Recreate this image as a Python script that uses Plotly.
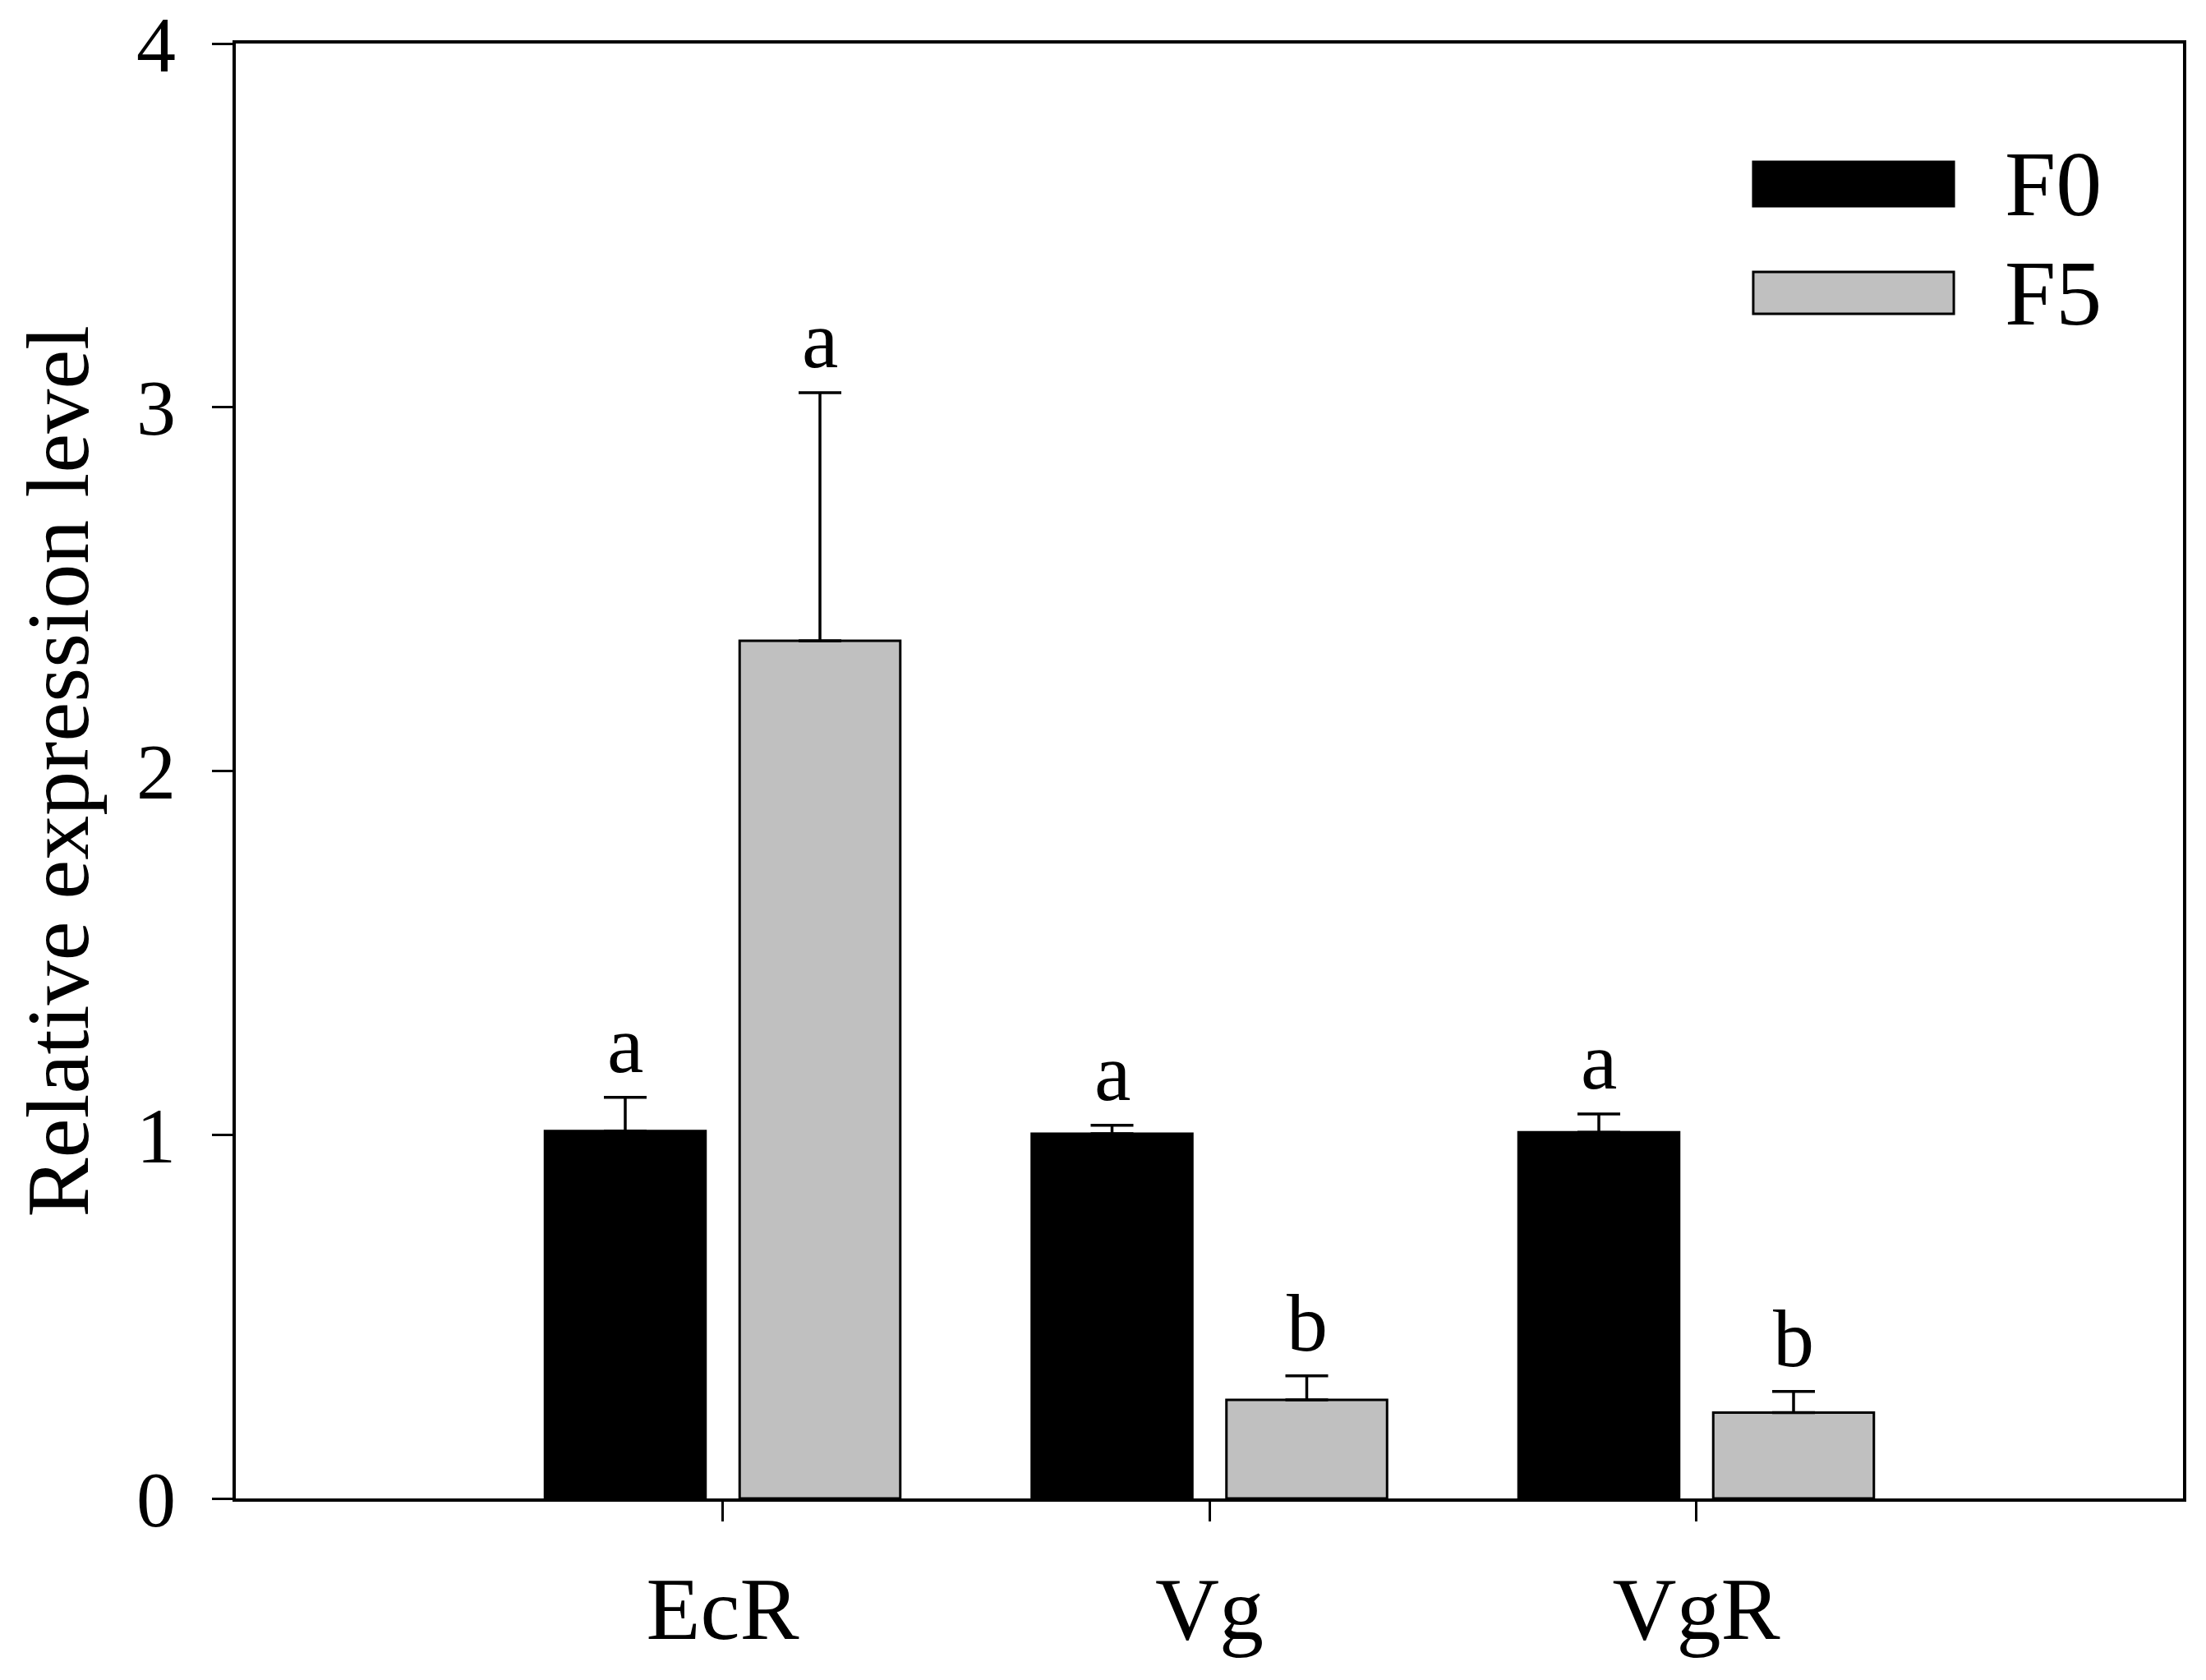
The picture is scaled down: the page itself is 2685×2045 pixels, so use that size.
import plotly.graph_objects as go

genes = ["EcR", "Vg", "VgR"]
series_names = ["F0", "F5"]
f0_values = [1.01, 1.003, 1.007]
f0_errors = [0.093, 0.023, 0.050]
f5_values = [2.358, 0.271, 0.236]
f5_errors = [0.682, 0.066, 0.058]
f0_letters = ["a", "a", "a"]
f5_letters = ["a", "b", "b"]
y_ticks = [0, 1, 2, 3, 4]

FONT = "Liberation Serif"
GRAY = "#C0C0C0"
BAR_W = 0.33

fig = go.Figure()
fig.add_trace(go.Bar(
    x=genes, y=f0_values, name=series_names[0],
    width=BAR_W, offset=-0.365,
    marker=dict(color="black", line=dict(color="black", width=3)),
    error_y=dict(type="data", array=f0_errors, arrayminus=[0] * 3, symmetric=False,
                 color="black", thickness=3.5, width=26),
    showlegend=False,
))
fig.add_trace(go.Bar(
    x=genes, y=f5_values, name=series_names[1],
    width=BAR_W, offset=0.035,
    marker=dict(color=GRAY, line=dict(color="black", width=3)),
    error_y=dict(type="data", array=f5_errors, arrayminus=[0] * 3, symmetric=False,
                 color="black", thickness=3.5, width=26),
    showlegend=False,
))

annotations = []
for i in range(len(genes)):
    annotations.append(dict(x=i - 0.2, y=f0_values[i] + f0_errors[i], xref="x", yref="y",
                            text=f0_letters[i], showarrow=False, yanchor="bottom", yshift=7,
                            font=dict(family=FONT, size=100, color="black")))
    annotations.append(dict(x=i + 0.2, y=f5_values[i] + f5_errors[i], xref="x", yref="y",
                            text=f5_letters[i], showarrow=False, yanchor="bottom", yshift=7,
                            font=dict(family=FONT, size=100, color="black")))

# y-axis title
annotations.append(dict(x=-0.1175, y=0.5, xref="paper", yref="paper", text="Relative expression level",
                        textangle=-90, showarrow=False, xanchor="left", yanchor="middle",
                        font=dict(family=FONT, size=108, color="black")))

# manual legend
legend_items = [(series_names[0], "black", 0.8882, 0.9187, 0.9035),
                (series_names[1], GRAY, 0.8142, 0.8430, 0.8283)]
shapes = []
for name, col, y0, y1, yt in legend_items:
    shapes.append(dict(type="rect", xref="paper", yref="paper", x0=0.7793, x1=0.8823, y0=y0, y1=y1,
                       fillcolor=col, line=dict(color="black", width=3)))
    annotations.append(dict(x=0.9076, y=yt, xref="paper", yref="paper", text=name, showarrow=False,
                            xanchor="left", yanchor="middle",
                            font=dict(family=FONT, size=112, color="black")))

fig.update_layout(
    width=2669, height=2029,
    margin=dict(l=279, r=20, t=45, b=213, autoexpand=False),
    paper_bgcolor="white", plot_bgcolor="white",
    barmode="overlay",
    annotations=annotations, shapes=shapes,
    font=dict(family=FONT, color="black"),
)
fig.update_xaxes(
    type="category", range=[-1, 3], automargin=False,
    showline=True, linecolor="black", linewidth=3.5, mirror=True,
    ticks="outside", ticklen=24, tickwidth=3, tickcolor="black",
    tickfont=dict(family=FONT, size=108, color="black"),
    ticklabelstandoff=14, ticklabeloverflow="allow",
    showgrid=False, zeroline=False,
)
fig.update_yaxes(
    range=[0, 4], tickvals=y_ticks, automargin=False,
    showline=True, linecolor="black", linewidth=3.5, mirror=True,
    ticks="outside", ticklen=25, tickwidth=3, tickcolor="black",
    tickfont=dict(family=FONT, size=96, color="black"),
    ticklabelstandoff=25, ticklabeloverflow="allow",
    showgrid=False, zeroline=False,
)

fig.write_html("out.html")
